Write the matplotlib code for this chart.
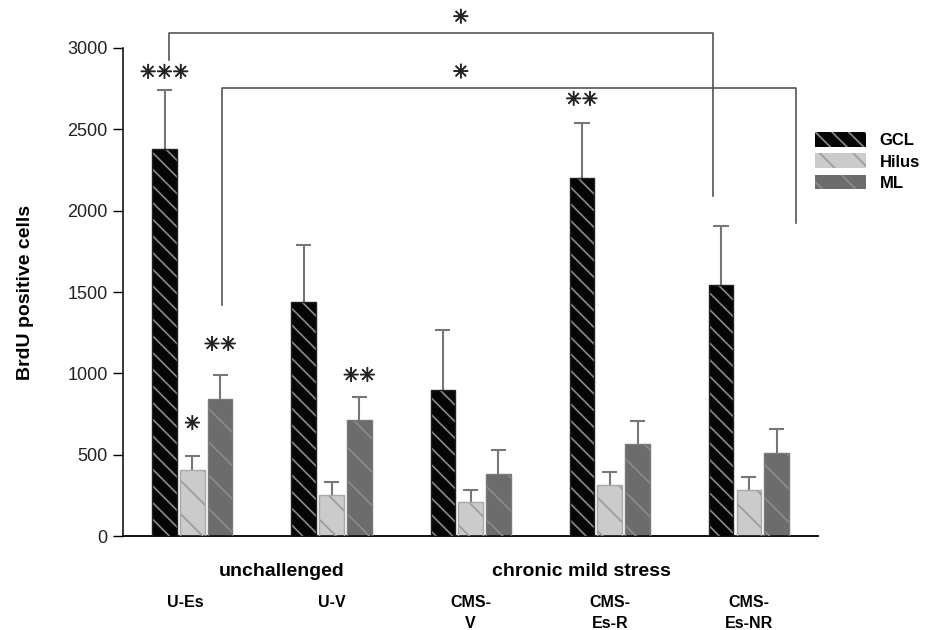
import matplotlib
matplotlib.use("Agg")
import matplotlib.pyplot as plt
import matplotlib.patheffects as pe
import numpy as np
from matplotlib.patches import Patch

# Groups and layers
groups = ["U-Es", "U-V", "CMS-\nV", "CMS-\nEs-R", "CMS-\nEs-NR"]
layers = ["GCL", "Hilus", "ML"]

# Mean BrdU+ cell counts and SEM per layer
gcl_mean = [2380, 1440, 900, 2200, 1545]
gcl_sem = [360, 350, 368, 340, 360]
hilus_mean = [405, 250, 207, 315, 283]
hilus_sem = [89, 82, 76, 80, 82]
ml_mean = [842, 713, 379, 565, 508]
ml_sem = [149, 143, 148, 144, 148]

# Significance marks over single bars: (group, layer, text, y)
marks = [
    (0, 0, "✳✳✳", 2846),
    (0, 1, "✳", 688),
    (0, 2, "✳✳", 1174),
    (1, 2, "✳✳", 983),
    (3, 0, "✳✳", 2680),
]

plt.rcParams["font.family"] = ["Liberation Sans", "DejaVu Sans"]
plt.rcParams["hatch.linewidth"] = 1.2

fig = plt.figure(figsize=(9.45, 6.3), dpi=100)
ax = fig.add_axes([0.130, 0.149, 0.736, 0.775])

means = [gcl_mean, hilus_mean, ml_mean]
sems = [gcl_sem, hilus_sem, ml_sem]
faces = ["#050505", "#cbcbcb", "#6c6c6c"]
hatch_cols = ["#8a8a8a", "#9a9a9a", "#8c8c8c"]
hatches = ["\\\\", "\\", "\\"]
edges = ["#202020", "#a8a8a8", "#7a7a7a"]
offsets = [-0.2, 0.0, 0.2]
width = 0.176
x = np.arange(len(groups))

for k in range(3):
    xs = x + offsets[k]
    ax.bar(xs, means[k], width, color=faces[k], edgecolor="none", zorder=2)
    ax.bar(xs, means[k], width, facecolor="none", edgecolor=hatch_cols[k],
           hatch=hatches[k], linewidth=0, zorder=3)
    ax.bar(xs, means[k], width, facecolor="none", edgecolor=edges[k],
           linewidth=1.0, zorder=4)
    tops = np.array(means[k]) + np.array(sems[k])
    ax.vlines(xs, means[k], tops, color="#777777", lw=1.5, zorder=1)
    ax.hlines(tops, xs - 0.055, xs + 0.055, color="#777777", lw=1.5, zorder=1)

# Legend
handles = [Patch(facecolor=faces[k], edgecolor=hatch_cols[k], hatch=hatches[k],
                 linewidth=0) for k in range(3)]
ax.legend(handles, layers, loc="upper left", bbox_to_anchor=(0.973, 0.858),
          frameon=False, handlelength=3.1, handleheight=1.0,
          labelspacing=0.3, handletextpad=0.8,
          prop={"weight": "bold", "size": 12})

star_fx = [pe.withStroke(linewidth=0.6, foreground="#222222")]

def star(xv, yv, txt):
    ax.text(xv, yv, txt, ha="center", va="center", fontsize=14,
            family="DejaVu Sans", color="#222222", path_effects=star_fx,
            clip_on=False)

# Significance marks
for g, l, txt, yv in marks:
    star(g + offsets[l], yv, txt)

# Comparison brackets
br_col = "#555555"
ax.plot([-0.17, -0.17, 3.74, 3.74], [2926, 3092, 3092, 2090],
        color=br_col, lw=1.2, clip_on=False)
star(1.93, 3185, "✳")
ax.plot([0.216, 0.216, 4.34, 4.34], [1420, 2754, 2754, 1924],
        color=br_col, lw=1.2, clip_on=False)
star(1.93, 2848, "✳")

ax.set_xlim(-0.5, 4.5)
ax.set_ylim(0, 3000)
ax.set_yticks([0, 500, 1000, 1500, 2000, 2500, 3000])
ax.tick_params(axis="y", length=7, width=1, labelsize=13, pad=4,
               labelcolor="#222222")
ax.set_xticks([])
for s in ["top", "right"]:
    ax.spines[s].set_visible(False)
ax.spines["left"].set_linewidth(1.1)
ax.spines["bottom"].set_linewidth(1.3)
ax.set_ylabel("BrdU positive cells", fontsize=14, fontweight="bold", labelpad=24)

# Group labels under the axis
for i, g in enumerate(groups):
    xi = i - 0.05 if i == 0 else i
    ax.text(xi, -0.12, g, transform=ax.get_xaxis_transform(), ha="center",
            va="top", fontsize=11.5, fontweight="bold", linespacing=1.5)
ax.text(0.64, -0.055, "unchallenged", transform=ax.get_xaxis_transform(),
        ha="center", va="top", fontsize=14, fontweight="bold")
ax.text(2.8, -0.055, "chronic mild stress", transform=ax.get_xaxis_transform(),
        ha="center", va="top", fontsize=14, fontweight="bold")

fig.savefig("out.png", dpi=100, facecolor="white")
